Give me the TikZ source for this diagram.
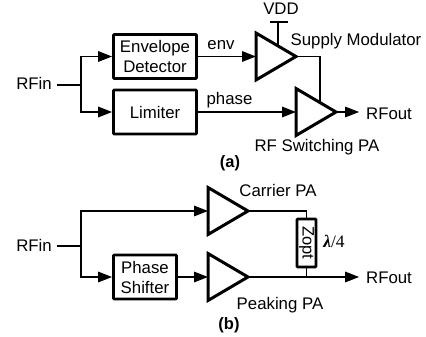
\documentclass[tikz,border=0pt]{standalone}
\usepackage{fontspec}
\setmainfont{Liberation Sans}
\newfontfamily\serifgreek{Liberation Serif}
\usetikzlibrary{shapes.geometric,arrows.meta,calc}
\tikzset{
  x=1pt,y=-1pt,
  wire/.style={line width=1.6pt,line join=miter},
  feed/.style={wire,-{Triangle[length=14pt,width=10.5pt]}},
  blockbox/.style={draw,line width=2.8pt,rounded corners=0.8pt,inner sep=0pt,align=center,font=\fontsize{16.8}{20}\selectfont},
  amp/.style={draw,line width=3pt,isosceles triangle,isosceles triangle stretches=true,minimum width=47pt,minimum height=40pt,inner sep=0pt,outer sep=0pt,anchor=lower side,line join=miter},
  lab/.style={inner sep=0pt,anchor=base,font=\fontsize{16.8}{20}\selectfont},
  figcap/.style={inner sep=0pt,anchor=base,font=\fontsize{16.5}{18}\selectfont\bfseries},
}
\begin{document}
\begin{tikzpicture}
\useasboundingbox (0,0) rectangle (426,337);
% part (a)
\node[lab,outer sep=5pt] (rfina) at (34,90) {RFin};
\coordinate (splita) at (81,85);
\node[blockbox,minimum width=83pt,minimum height=44pt] (env) at (155,56.5) {Envelope\\Detector};
\node[blockbox,minimum width=83pt,minimum height=44pt] (lim) at (155,112) {Limiter};
\node[amp] (a1) at (256,56.5) {};
\node[amp] (a2) at (296,112) {};
\node[lab] (envl) at (221,50) {env};
\node[lab] (phasel) at (229.5,105) {phase};
\node[lab] (vdd) at (281,14.5) {VDD};
\node[lab] (supl) at (356,46) {Supply Modulator};
\node[lab,outer sep=7pt] (rfouta) at (389,119) {RFout};
\node[lab] (swl) at (317,151.7) {RF Switching PA};
\node[figcap] (capa) at (230,167) {(a)};
\coordinate (vddL) at (270,22);
\coordinate (vddR) at (288,22);
\coordinate (vddT) at (278,22);
\coordinate (vddB) at ($(a1.apex)!0.45!(a1.left corner)$);
\coordinate (supB) at ($(a2.apex)!0.4!(a2.left corner)$);
\draw[wire] (rfina.east |- splita) -- (splita);
\draw[feed] (splita) |- (env.west);
\draw[feed] (splita) |- (lim.west);
\draw[feed] (env.east) -- (a1.lower side);
\draw[feed] (lim.east) -- (a2.lower side);
\draw[wire] (vddL) -- (vddR);
\draw[wire] (vddT) -- (vddT |- vddB);
\draw[wire] (a1.apex) -| (supB);
\draw[feed] (a2.apex) -- (rfouta.west |- a2.apex);
% part (b)
\node[lab,outer sep=5pt] (rfinb) at (34,251) {RFin};
\coordinate (splitb) at (81,246);
\node[blockbox,minimum width=63pt,minimum height=44pt] (ps) at (145,277) {Phase\\Shifter};
\node[amp] (a3) at (208,211) {};
\node[amp] (a4) at (208,277) {};
\node[draw,line width=2.8pt,rounded corners=0.8pt,inner sep=0pt,rotate=-90,minimum width=48pt,minimum height=19pt,font=\fontsize{16.5}{20}\selectfont] (zopt) at (306.5,243) {Zopt};
\node[lab] (carl) at (278,196) {Carrier PA};
\node[lab] (peak) at (280,309) {Peaking PA};
\node[lab,font=\fontsize{17.5}{20}\selectfont] (lam) at (334,247) {{\serifgreek\bfseries\itshape λ}{\serifgreek/4}};
\node[lab,outer sep=7pt] (rfoutb) at (389,283) {RFout};
\node[figcap] (capb) at (229,329.7) {(b)};
\coordinate (joinb) at (306.5,277);
\draw[wire] (rfinb.east |- splitb) -- (splitb);
\draw[feed] (splitb) |- (a3.lower side);
\draw[feed] (splitb) |- (ps.west);
\draw[feed] (ps.east) -- (a4.lower side);
\draw[wire] (a3.apex) -| (zopt.west);
\draw[wire] (zopt.east) -- (joinb);
\draw[feed] (a4.apex) -- (rfoutb.west |- a4.apex);
\end{tikzpicture}
\end{document}
